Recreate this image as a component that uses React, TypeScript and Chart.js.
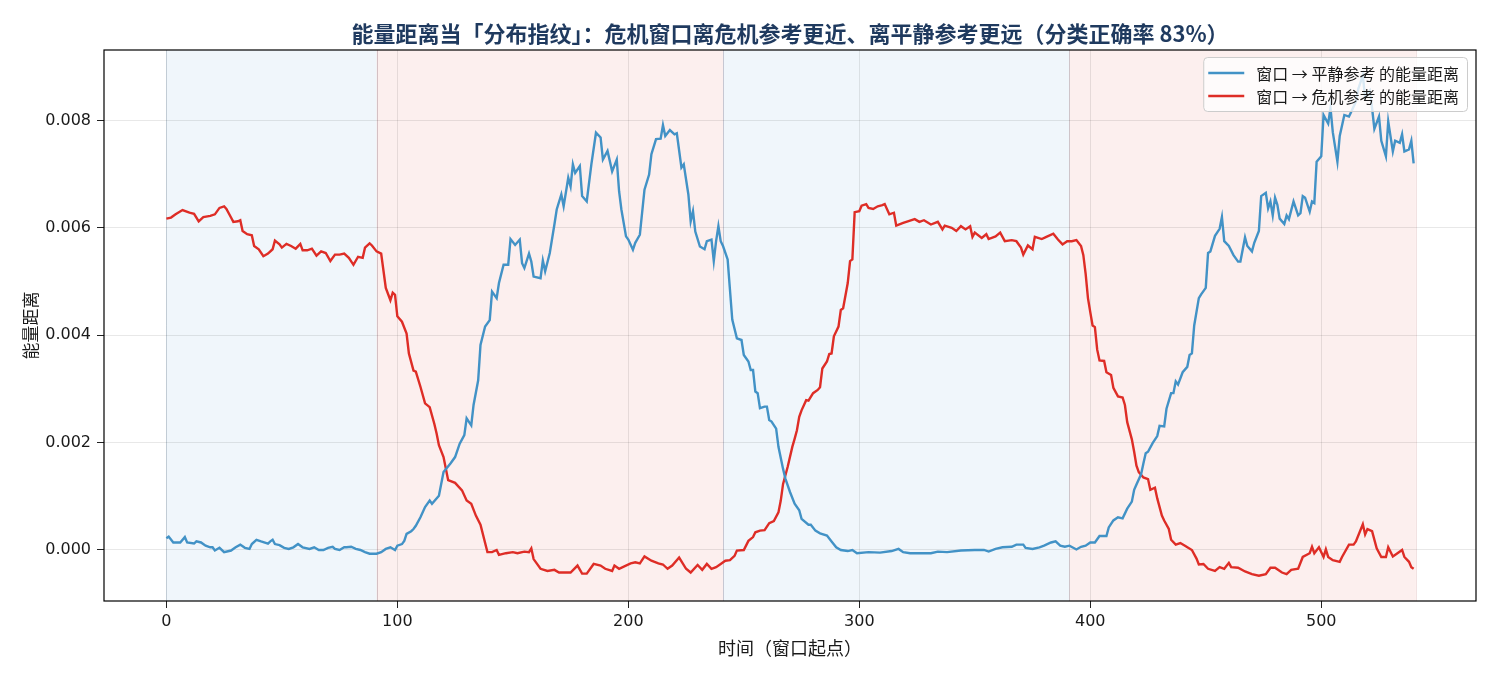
import React, { useEffect, useRef } from 'react';
import { Chart, registerables } from 'chart.js';

Chart.register(...registerables);

const TITLE = '能量距离当「分布指纹」：危机窗口离危机参考更近、离平静参考更远（分类正确率 83%）';
const X_LABEL = '时间（窗口起点）';
const Y_LABEL = '能量距离';
const CALM_LABEL = '窗口 → 平静参考 的能量距离';
const CRISIS_LABEL = '窗口 → 危机参考 的能量距离';

const xTicks = [0, 100, 200, 300, 400, 500];
const yTicks = [0, 0.002, 0.004, 0.006, 0.008];

// shaded regimes (window start positions)
const spanEdges = [0, 91, 241, 391, 541];
const spanKinds = ['calm', 'crisis', 'calm', 'crisis'];

// values are in units of 1e-3
const MILLI = 0.001;

const calmT = [
  0, 1, 3, 5, 6, 8, 9, 12, 13, 15, 17, 19, 20, 21, 23, 25, 28, 30, 32, 34, 36, 37, 39, 41, 44, 45, 46, 47, 49,
  51, 53, 55, 57, 59, 62, 64, 66, 68, 70, 72, 73, 75, 77, 78, 80, 82, 84, 86, 88, 91, 93, 95, 97, 99,
  100, 102, 103, 104, 106, 107, 108, 110, 112, 114, 115, 118, 120, 123, 125, 127, 129, 130, 132, 133, 135, 136,
  138, 140, 141, 143, 144, 146, 148, 149, 151, 153, 154, 155, 157, 158, 159, 162, 163, 164, 166, 168, 169, 171,
  172, 174, 175, 176, 177, 179, 180, 182, 184, 186, 188, 189, 191, 193, 195, 196, 197, 199,
  200, 202, 203, 205, 207, 209, 210, 212, 214, 215, 216, 218, 220, 221, 223, 224, 226, 227, 228, 229, 231, 233,
  234, 236, 237, 238, 239, 240, 241, 243, 244, 245, 247, 249, 250, 252, 253, 254, 255, 256, 257, 259, 260, 261,
  262, 264, 265, 267, 268, 270, 272, 274, 275, 278, 279, 281, 283, 286, 288, 290, 292, 295, 297, 299,
  304, 309, 314, 317, 319, 322, 327, 331, 334, 338, 344, 350, 354, 356, 359, 362, 366, 368, 371, 372, 375, 378,
  380, 383, 385, 387, 389, 391, 394, 396, 398,
  400, 402, 404, 407, 408, 410, 412, 414, 416, 418, 419, 420, 422, 423, 424, 425, 427, 429, 430, 432, 433, 435,
  436, 437, 438, 440, 442, 443, 444, 445, 447, 448, 450, 451, 452, 454, 456, 457, 458, 460, 462, 464, 465, 467,
  468, 470, 471, 473, 474, 476, 477, 478, 479, 480, 481, 482, 484, 485, 486, 488, 490, 491, 492, 493, 495, 496,
  497, 498, 500, 501, 503, 504, 505, 507, 508, 510, 512, 513, 515, 516, 518, 519, 521, 522, 523, 525, 526, 528,
  529, 531, 532, 534, 535, 536, 538, 539, 540,
];
const calmDist = [
  0.22, 0.25, 0.14, 0.14, 0.14, 0.24, 0.14, 0.12, 0.16, 0.14, 0.08, 0.05, 0.05, -0.01, 0.04, -0.04, -0.01, 0.05, 0.10, 0.04, 0.02, 0.11, 0.19, 0.16, 0.12, 0.16, 0.19, 0.11, 0.09,
  0.04, 0.02, 0.05, 0.11, 0.05, 0.02, 0.05, 0.0, 0.0, 0.04, 0.06, 0.02, 0.0, 0.05, 0.05, 0.06, 0.02, 0.0, -0.04, -0.07, -0.07, -0.04, 0.02, 0.05, 0.0,
  0.08, 0.11, 0.17, 0.30, 0.35, 0.39, 0.45, 0.61, 0.80, 0.92, 0.86, 1.01, 1.45, 1.61, 1.73, 1.98, 2.14, 2.45, 2.32, 2.70, 3.16, 3.82,
  4.16, 4.28, 4.81, 4.69, 4.97, 5.31, 5.31, 5.79, 5.68, 5.78, 5.34, 5.25, 5.52, 5.37, 5.09, 5.06, 5.39, 5.19, 5.53, 6.06, 6.34, 6.62,
  6.40, 6.93, 6.77, 7.18, 7.02, 7.15, 6.59, 6.49, 7.18, 7.77, 7.68, 7.27, 7.43, 7.05, 7.27, 6.68, 6.34, 5.84,
  5.78, 5.59, 5.72, 5.87, 6.71, 6.99, 7.37, 7.65, 7.66, 7.91, 7.71, 7.82, 7.74, 7.76, 7.12, 7.18, 6.62, 6.12, 6.31, 5.93, 5.65, 5.60,
  5.75, 5.78, 5.38, 5.75, 6.03, 5.75, 5.66, 5.41, 4.85, 4.29, 3.94, 3.91, 3.63, 3.51, 3.35, 3.35, 2.95, 2.92, 2.64, 2.67, 2.67, 2.42,
  2.39, 2.26, 1.92, 1.51, 1.33, 1.08, 0.86, 0.74, 0.58, 0.47, 0.47, 0.36, 0.31, 0.27, 0.16, 0.05, 0.0, -0.02, 0.0, -0.06,
  -0.04, -0.05, -0.02, 0.02, -0.04, -0.06, -0.06, -0.06, -0.03, -0.04, -0.01, 0.0, 0.0, -0.03, 0.02, 0.05, 0.06, 0.10, 0.10, 0.04, 0.02, 0.05,
  0.08, 0.14, 0.16, 0.08, 0.06, 0.08, 0.01, 0.06, 0.08,
  0.14, 0.14, 0.26, 0.26, 0.42, 0.55, 0.61, 0.59, 0.77, 0.90, 1.12, 1.22, 1.41, 1.61, 1.80, 1.83, 1.99, 2.12, 2.31, 2.30, 2.63, 2.92,
  2.92, 3.14, 3.08, 3.31, 3.41, 3.63, 3.66, 4.18, 4.69, 4.76, 4.88, 5.53, 5.56, 5.85, 5.98, 6.20, 5.75, 5.66, 5.49, 5.37, 5.37, 5.82,
  5.66, 5.56, 5.72, 5.94, 6.59, 6.65, 6.36, 6.49, 6.23, 6.56, 6.43, 6.17, 6.07, 6.23, 6.16, 6.49, 6.23, 6.27, 6.59, 6.56, 6.30, 6.49,
  6.46, 7.23, 7.33, 8.10, 7.94, 8.23, 7.78, 7.23, 7.71, 8.10, 8.07, 8.16, 8.35, 8.58, 8.84, 8.42, 8.55, 8.23, 7.84, 8.07, 7.62, 7.33,
  7.98, 7.42, 7.62, 7.58, 7.74, 7.42, 7.46, 7.62, 7.20,
];

const crisisT = [
  0, 2, 4, 7, 10, 12, 14, 16, 19, 21, 23, 25, 26, 28, 29, 31, 32, 33, 35, 37, 38, 40, 42, 44, 46, 47, 49,
  50, 52, 54, 56, 58, 59, 61, 63, 65, 67, 69, 71, 73, 75, 77, 79, 81, 83, 85, 86, 88, 89, 91, 93, 95, 97, 98, 99,
  100, 102, 104, 105, 107, 108, 110, 112, 114, 116, 117, 118, 120, 122, 125, 128, 130, 132, 134, 136, 139, 141,
  143, 144, 147, 150, 152, 155, 157, 158, 159, 162, 165, 168, 170, 173, 175, 178, 180, 182, 185, 188, 190, 193,
  194, 196, 201, 203, 205, 207, 210, 213, 215, 217, 219, 222, 225, 227, 230, 232, 234, 236, 238, 240, 242, 244,
  246, 247, 250, 252, 254, 255, 257, 259, 261, 263, 265, 266, 267, 269, 271, 272, 273, 274, 275, 277, 278, 280,
  282, 283, 284, 286, 287, 288, 289, 291, 292, 293, 295, 296, 297, 298, 300, 301, 303, 304, 306, 308, 310, 311,
  313, 315, 316, 319, 321, 324, 326, 328, 331, 334, 336, 337, 340, 342, 344, 346, 348, 349, 350, 353, 355, 356,
  359, 361, 363, 366, 368, 370, 371, 373, 375, 376, 379, 381, 384, 386, 388, 390, 392, 394, 396, 397, 398, 399,
  400, 401, 402, 403, 404, 406, 407, 409, 410, 412, 414, 415, 416, 418, 419, 420, 421, 423, 425, 426, 428, 429,
  431, 432, 434, 435, 437, 439, 441, 444, 446, 447, 449, 451, 454, 456, 458, 460, 461, 464, 467, 470, 473, 476,
  478, 480, 483, 485, 487, 490, 492, 495, 496, 497, 499, 501, 502, 503, 505, 508, 509, 512, 514, 515, 518, 519,
  520, 522, 524, 526, 528, 529, 531, 533, 535, 536, 538, 539, 540,
];
const crisisDist = [
  6.17, 6.19, 6.25, 6.33, 6.28, 6.26, 6.12, 6.20, 6.22, 6.25, 6.37, 6.40, 6.35, 6.19, 6.11, 6.12, 6.14, 5.94, 5.88, 5.86, 5.66, 5.60, 5.47, 5.52, 5.60, 5.76, 5.69,
  5.63, 5.70, 5.66, 5.61, 5.70, 5.58, 5.58, 5.61, 5.48, 5.56, 5.53, 5.38, 5.50, 5.50, 5.52, 5.44, 5.31, 5.46, 5.44, 5.63, 5.71, 5.67, 5.56, 5.52, 4.88, 4.65, 4.79, 4.75,
  4.35, 4.25, 4.03, 3.66, 3.34, 3.32, 3.04, 2.73, 2.66, 2.35, 2.17, 1.95, 1.73, 1.30, 1.25, 1.11, 0.92, 0.86, 0.64, 0.47, -0.04, -0.04,
  0.0, -0.09, -0.06, -0.04, -0.06, -0.03, -0.04, 0.03, -0.17, -0.35, -0.39, -0.37, -0.42, -0.42, -0.42, -0.29, -0.44, -0.44, -0.26, -0.29, -0.35, -0.39,
  -0.29, -0.35, -0.25, -0.23, -0.25, -0.12, -0.20, -0.25, -0.27, -0.35, -0.29, -0.14, -0.35, -0.42, -0.28, -0.37, -0.26, -0.35, -0.32, -0.26, -0.20, -0.19,
  -0.11, -0.01, 0.0, 0.17, 0.24, 0.33, 0.36, 0.37, 0.50, 0.54, 0.70, 0.92, 1.23, 1.55, 1.92, 2.07, 2.23, 2.48, 2.60, 2.79, 2.78, 2.92,
  2.98, 3.03, 3.38, 3.51, 3.65, 3.66, 3.98, 4.16, 4.47, 4.50, 4.97, 5.38, 5.41, 6.29, 6.31, 6.41, 6.44, 6.37, 6.35, 6.40, 6.42, 6.44,
  6.25, 6.28, 6.04, 6.09, 6.12, 6.16, 6.11, 6.14, 6.06, 6.11, 5.97, 6.04, 6.00, 5.94, 6.03, 5.97, 6.03, 5.83, 5.91, 5.81, 5.88, 5.79,
  5.84, 5.91, 5.75, 5.77, 5.75, 5.63, 5.50, 5.67, 5.60, 5.83, 5.79, 5.83, 5.89, 5.78, 5.69, 5.75, 5.75, 5.77, 5.66, 5.49, 5.14, 4.69,
  4.43, 4.18, 4.15, 3.73, 3.53, 3.52, 3.31, 3.26, 3.02, 2.86, 2.84, 2.70, 2.38, 2.06, 1.83, 1.57, 1.45, 1.35, 1.32, 1.12, 1.16, 0.96,
  0.64, 0.55, 0.39, 0.19, 0.10, 0.13, 0.08, 0.0, -0.16, -0.27, -0.26, -0.35, -0.39, -0.32, -0.35, -0.24, -0.32, -0.33, -0.40, -0.45, -0.48, -0.45,
  -0.33, -0.33, -0.42, -0.45, -0.37, -0.35, -0.13, -0.06, 0.06, -0.06, 0.05, -0.13, 0.01, -0.13, -0.19, -0.22, -0.13, 0.10, 0.10, 0.16, 0.48, 0.29,
  0.39, 0.35, 0.03, -0.13, -0.13, 0.05, -0.12, -0.06, 0.0, -0.13, -0.22, -0.32, -0.35,
];

const CALM_COLOR = '#4292c6';
const CRISIS_COLOR = '#de2d26';
const CJK = '"Noto Sans CJK SC", "Noto Sans", sans-serif';
const NUM = '"DejaVu Sans", sans-serif';

const toPoints = (ts: number[], vs: number[]) => ts.map((t, i) => ({ x: t, y: vs[i] * MILLI }));

const spansPlugin = {
  id: 'regimeSpans',
  beforeDraw(chart: any) {
    const { ctx, chartArea, scales } = chart;
    const xs = scales.x;
    ctx.save();
    for (let i = 0; i < spanKinds.length; i++) {
      const a = xs.getPixelForValue(spanEdges[i]);
      const b = xs.getPixelForValue(spanEdges[i + 1]);
      const calm = spanKinds[i] === 'calm';
      ctx.fillStyle = calm ? 'rgba(66,146,198,0.08)' : 'rgba(222,45,38,0.08)';
      ctx.fillRect(a, chartArea.top, b - a, chartArea.bottom - chartArea.top);
      ctx.strokeStyle = calm ? 'rgba(66,110,150,0.18)' : 'rgba(160,60,60,0.15)';
      ctx.lineWidth = 1;
      for (const p of [a, b]) {
        ctx.beginPath();
        ctx.moveTo(Math.round(p) + 0.5, chartArea.top);
        ctx.lineTo(Math.round(p) + 0.5, chartArea.bottom);
        ctx.stroke();
      }
    }
    ctx.restore();
  },
};

const frameLegendPlugin = {
  id: 'frameLegend',
  afterDraw(chart: any) {
    const { ctx, chartArea } = chart;
    ctx.save();
    // frame
    ctx.strokeStyle = '#000';
    ctx.lineWidth = 1.2;
    ctx.strokeRect(chartArea.left, chartArea.top, chartArea.right - chartArea.left, chartArea.bottom - chartArea.top);

    // legend
    ctx.font = `16px ${CJK}`;
    const labels = [CALM_LABEL, CRISIS_LABEL];
    const colors = [CALM_COLOR, CRISIS_COLOR];
    const tw = Math.max(...labels.map((l) => ctx.measureText(l).width));
    const boxRight = chartArea.right - 9;
    const textStart = boxRight - 8 - tw;
    const lineEnd = textStart - 12;
    const lineStart = lineEnd - 36;
    const boxLeft = lineStart - 5;
    const boxTop = chartArea.top + 7;
    const boxBottom = chartArea.top + 61;
    ctx.beginPath();
    ctx.roundRect(boxLeft + 0.5, boxTop + 0.5, boxRight - boxLeft, boxBottom - boxTop, 4);
    ctx.fillStyle = 'rgba(255,255,255,0.8)';
    ctx.fill();
    ctx.strokeStyle = '#cccccc';
    ctx.lineWidth = 1;
    ctx.stroke();
    const rows = [chartArea.top + 23, chartArea.top + 46];
    labels.forEach((l, i) => {
      ctx.strokeStyle = colors[i];
      ctx.lineWidth = 2.4;
      ctx.beginPath();
      ctx.moveTo(lineStart, rows[i]);
      ctx.lineTo(lineEnd, rows[i]);
      ctx.stroke();
      ctx.fillStyle = '#1a1a1a';
      ctx.textBaseline = 'middle';
      ctx.textAlign = 'left';
      ctx.fillText(l, textStart, rows[i] + 1);
    });
    ctx.restore();
  },
};

export default function App() {
  const ref = useRef<HTMLCanvasElement | null>(null);

  useEffect(() => {
    document.body.style.margin = '0';
    const canvas = ref.current;
    if (!canvas) return;
    const chart = new Chart(canvas, {
      type: 'line',
      data: {
        datasets: [
          {
            label: CALM_LABEL,
            data: toPoints(calmT, calmDist),
            borderColor: CALM_COLOR,
            backgroundColor: CALM_COLOR,
            borderWidth: 2.4,
            pointRadius: 0,
            tension: 0,
          },
          {
            label: CRISIS_LABEL,
            data: toPoints(crisisT, crisisDist),
            borderColor: CRISIS_COLOR,
            backgroundColor: CRISIS_COLOR,
            borderWidth: 2.4,
            pointRadius: 0,
            tension: 0,
          },
        ],
      },
      options: {
        responsive: false,
        animation: false,
        devicePixelRatio: 1,
        layout: { padding: { left: 0, right: 19, top: 0, bottom: 0 } },
        plugins: {
          legend: { display: false },
          tooltip: { enabled: false },
          title: {
            display: true,
            fullSize: false,
            text: TITLE,
            color: '#1f3a5f',
            font: { family: CJK, size: 22, weight: 'bold', lineHeight: 1.2 },
            padding: { top: 20, bottom: 3.6 },
          },
        },
        scales: {
          x: {
            type: 'linear',
            min: -27,
            max: 567,
            afterFit: (s: any) => {
              s.height = 75;
            },
            afterBuildTicks: (s: any) => {
              s.ticks = xTicks.map((v) => ({ value: v }));
            },
            grid: {
              color: 'rgba(0,0,0,0.09)',
              tickColor: '#222',
              tickLength: 7,
              lineWidth: 1,
            },
            border: { display: false },
            ticks: {
              color: '#1a1a1a',
              font: { family: NUM, size: 16 },
              padding: 4,
              maxRotation: 0,
              callback: (v: any) => String(v),
            },
            title: {
              display: true,
              text: X_LABEL,
              color: '#1a1a1a',
              font: { family: CJK, size: 18 },
              padding: { top: 0, bottom: 17 },
            },
          },
          y: {
            type: 'linear',
            min: -0.00095,
            max: 0.00931,
            afterFit: (s: any) => {
              s.width = 104;
            },
            afterBuildTicks: (s: any) => {
              s.ticks = yTicks.map((v) => ({ value: v }));
            },
            grid: {
              color: 'rgba(0,0,0,0.09)',
              tickColor: '#222',
              tickLength: 7,
              lineWidth: 1,
            },
            border: { display: false },
            ticks: {
              color: '#1a1a1a',
              font: { family: NUM, size: 16 },
              padding: 6,
              callback: (v: any) => Number(v).toFixed(3),
            },
            title: {
              display: true,
              text: Y_LABEL,
              color: '#1a1a1a',
              font: { family: CJK, size: 17 },
              padding: { top: 20, bottom: 0 },
            },
          },
        },
      },
      plugins: [spansPlugin, frameLegendPlugin],
    } as any);
    return () => chart.destroy();
  }, []);

  return (
    <div style={{ position: 'absolute', left: 0, top: 0, width: 1495, height: 676, background: '#fff' }}>
      <canvas ref={ref} width={1495} height={676} style={{ width: 1495, height: 676, display: 'block' }} />
    </div>
  );
}
